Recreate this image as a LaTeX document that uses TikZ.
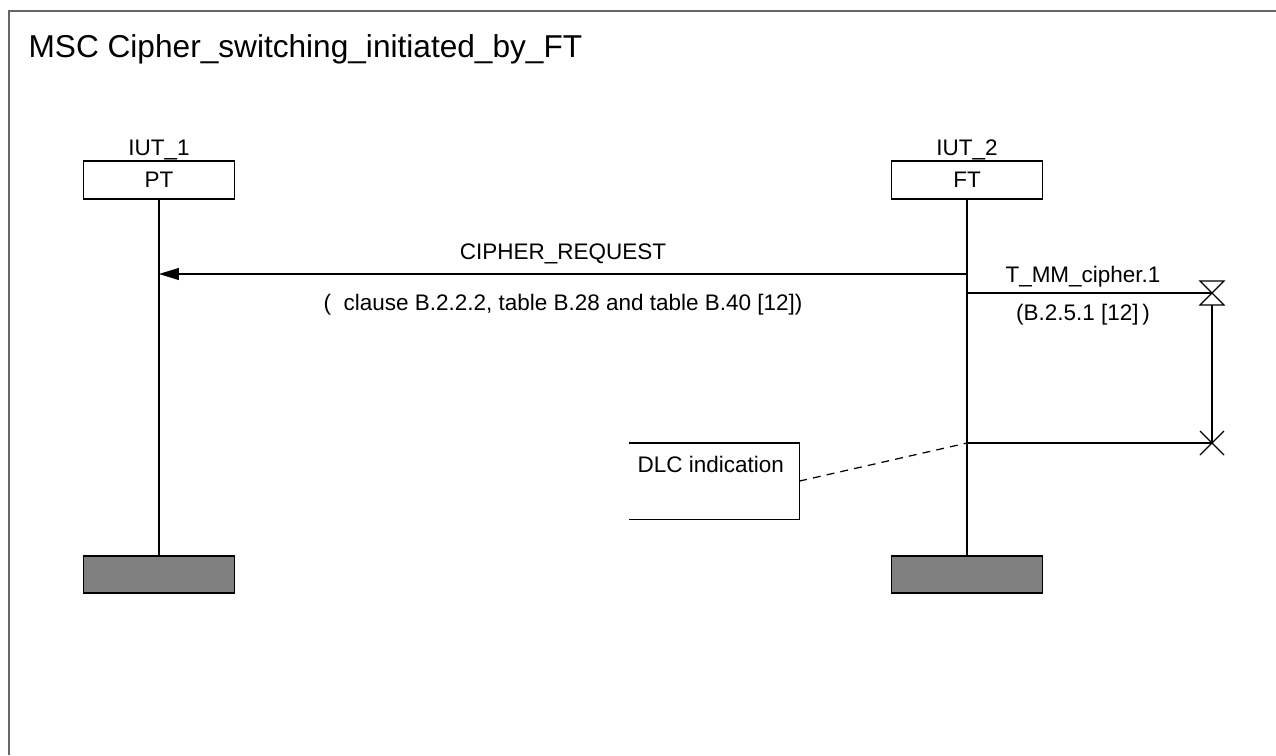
\documentclass[tikz,border=0pt]{standalone}
\usepackage{fontspec}
\setmainfont{Liberation Sans}
\usetikzlibrary{arrows.meta,positioning}

\begin{document}
\begin{tikzpicture}[
  x=0.02cm, y=-0.02cm,
  font=\fontsize{12.8}{15}\selectfont,
  line width=0.7pt,
  inst/.style={draw, minimum width=3.02cm, minimum height=0.76cm, inner sep=0pt},
  instend/.style={draw, fill=black!50, minimum width=3.02cm, minimum height=0.74cm, inner sep=0pt},
  lbl/.style={anchor=base, inner sep=0pt},
  msg/.style={-{Triangle[length=0.4cm, width=0.24cm]}},
  frm/.style={draw=black!60, line width=1.2pt}
]
\useasboundingbox (0,0) rectangle (1276,755);
\draw[frm] (9,755) -- (9,11) -- (1276,11);
\node[anchor=base west, inner sep=0pt, font=\fontsize{18}{21}\selectfont] (title) at (28,57) {MSC Cipher\_switching\_initiated\_by\_FT};

% instances
\node[inst] (pt) at (159,180) {PT};
\node[inst] (ft) at (967,180) {FT};
\node[lbl] (iut1) at (159,155) {IUT\_1};
\node[lbl] (iut2) at (967,155) {IUT\_2};
\node[instend] (ptend) at (159,574.5) {};
\node[instend] (ftend) at (967,574.5) {};
\draw (pt) -- (ptend);
\draw (ft) -- (ftend);

% message
\coordinate (m1s) at (967,274);
\coordinate (m1e) at (159,274);
\draw[msg] (m1s) -- (m1e);
\node[lbl] (m1a) at (563,259) {CIPHER\_REQUEST};
\node[lbl] (m1b) at (563,310) {(\ \ clause B.2.2.2, table B.28 and table B.40 [12])};

% timer
\coordinate (tstart) at (967,293);
\coordinate (tset) at (1212,293);
\coordinate (tend) at (967,443);
\coordinate (tout) at (1212,443);
\draw (tstart) -- (tset);
\draw (tset) ++(-12,-12) -- ++(24,0) -- ++(-24,24) -- ++(24,0) -- cycle;
\draw (tset) ++(0,12) -- (tout);
\draw (tend) -- (tout);
\draw (tout) ++(-12,-12) -- ++(24,24) (tout) ++(-12,12) -- ++(24,-24);
\node[lbl] (tname) at (1083,282) {T\_MM\_cipher.1};
\node[lbl] (tref) at (1083,320) {(B.2.5.1 [12]\,)};

% comment
\node[anchor=north west, minimum width=3.38cm, minimum height=1.5cm, inner sep=0pt] (dlc) at (629,443) {};
\draw (dlc.north west) -- (dlc.north east) -- (dlc.south east) -- (dlc.south west);
\node[anchor=base west, inner sep=0pt] (dlctxt) at (637,472) {DLC indication};
\draw[dash pattern=on 4.5pt off 3.5pt] (dlc.east) -- (tend);
\end{tikzpicture}
\end{document}
